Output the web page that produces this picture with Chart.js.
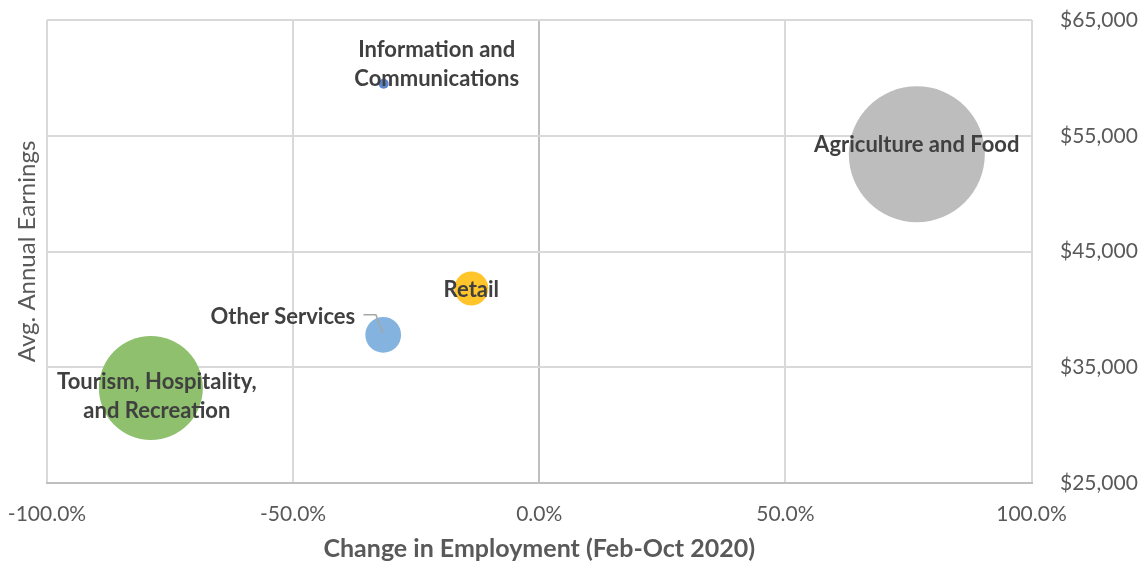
<!DOCTYPE html>
<html><head><meta charset="utf-8">
<script src="https://cdn.jsdelivr.net/npm/chart.js@4"></script>
<style>html,body{margin:0;padding:0;background:#fff;overflow:hidden}#wrap{width:1144px;height:567px}</style>
</head><body><div id="wrap"><canvas id="c" width="1144" height="567"></canvas></div>
<script>
// ---- data ----
const categories = ['Information and Communications', 'Agriculture and Food', 'Retail', 'Other Services', 'Tourism, Hospitality, and Recreation'];
const employmentChange = [-31.6, 76.7, -13.8, -31.7, -78.9];   // % change Feb-Oct 2020
const avgEarnings = [59500, 53400, 41800, 37800, 33200];        // $
const bubbleSizes = [2.5, 462, 29, 32, 270];                    // relative bubble size (area)
const xTickLabels = ['-100.0%', '-50.0%', '0.0%', '50.0%', '100.0%'];
const yTickLabels = ['$25,000', '$35,000', '$45,000', '$55,000', '$65,000'];

// ---- styles ----
const bubbleColors = ['#5B86CC', '#BDBDBD', '#FFC52A', '#84B3E0', '#8EC06E'];
const maxRadius = 68;
const labelLayout = [
  {lines: ['Information and', 'Communications'], dx: 53, dy: -19, align: 'center'},
  {lines: ['Agriculture and Food'], dx: 0, dy: -9, align: 'center'},
  {lines: ['Retail'], dx: 0, dy: 1, align: 'center'},
  {lines: ['Other Services'], dx: -28, dy: -18, align: 'right', leader: [[-19.7, -20], [-7.3, -20], [-0.3, -1.7]]},
  {lines: ['Tourism, Hospitality,', 'and Recreation'], dx: 6, dy: 8.5, align: 'center'}
];
const FONT = 'Lato';

const maxSize = Math.max(...bubbleSizes);
const points = categories.map((c, i) => ({
  x: employmentChange[i], y: avgEarnings[i],
  r: maxRadius * Math.sqrt(bubbleSizes[i] / maxSize)
}));

const labelPlugin = {
  id: 'bubbleLabels',
  afterDatasetsDraw(chart) {
    const ctx = chart.ctx;
    const meta = chart.getDatasetMeta(0);
    ctx.save();
    meta.data.forEach((el, i) => {
      const L = labelLayout[i];
      const cx = el.x, cy = el.y;
      if (L.leader) {
        ctx.beginPath();
        ctx.strokeStyle = '#A6A6A6';
        ctx.lineWidth = 1.5;
        L.leader.forEach(([dx, dy], k) => k ? ctx.lineTo(cx + dx, cy + dy) : ctx.moveTo(cx + dx, cy + dy));
        ctx.stroke();
      }
      ctx.font = 'bold 22px ' + FONT;
      ctx.fillStyle = '#404040';
      ctx.textAlign = L.align;
      ctx.textBaseline = 'middle';
      const n = L.lines.length;
      L.lines.forEach((t, k) => ctx.fillText(t, cx + L.dx, cy + L.dy + (k - (n - 1) / 2) * 29));
    });
    const ca = chart.chartArea;
    ctx.translate(27, (ca.top + ca.bottom) / 2);
    ctx.rotate(-Math.PI / 2);
    ctx.font = '24px ' + FONT;
    ctx.fillStyle = '#595959';
    ctx.textAlign = 'center';
    ctx.textBaseline = 'middle';
    ctx.fillText('Avg. Annual Earnings', 0, 0);
    ctx.restore();
  }
};

new Chart(document.getElementById('c'), {
  type: 'bubble',
  data: {
    datasets: [{
      data: points,
      backgroundColor: bubbleColors,
      borderWidth: 0,
      hoverBorderWidth: 0,
      hoverRadius: 0
    }]
  },
  options: {
    responsive: false,
    animation: false,
    devicePixelRatio: 1,
    events: [],
    layout: {autoPadding: false, padding: {left: 47, top: 20, right: 0, bottom: 0}},
    plugins: {legend: {display: false}, tooltip: {enabled: false}},
    scales: {
      x: {
        type: 'linear', min: -100, max: 100,
        afterFit: s => { s.height = 84; s.paddingLeft = 0; s.paddingRight = 0; },
        ticks: {
          stepSize: 50, padding: 19, color: '#595959',
          font: {family: FONT, size: 21},
          callback: (v, i) => xTickLabels[i]
        },
        grid: {
          drawTicks: false, lineWidth: 2,
          color: c => (c.tick && c.tick.value === 0) ? '#BFBFBF' : '#D9D9D9'
        },
        border: {display: true, color: '#BFBFBF', width: 2},
        title: {
          display: true, text: 'Change in Employment (Feb-Oct 2020)',
          color: '#595959', font: {family: FONT, size: 25, weight: 'bold'},
          padding: {top: 0, bottom: 3}
        }
      },
      y: {
        type: 'linear', position: 'right', min: 25000, max: 65000,
        afterFit: s => { s.width = 112.5; s.paddingTop = 0; s.paddingBottom = 0; },
        ticks: {
          stepSize: 10000, padding: 28.5, color: '#595959',
          font: {family: FONT, size: 21},
          callback: (v, i) => yTickLabels[i]
        },
        grid: {
          drawTicks: false, lineWidth: 2,
          color: c => (c.tick && c.tick.value === 25000) ? '#BFBFBF' : '#D9D9D9'
        },
        border: {display: false}
      }
    }
  },
  plugins: [labelPlugin]
});
</script>
</body></html>
